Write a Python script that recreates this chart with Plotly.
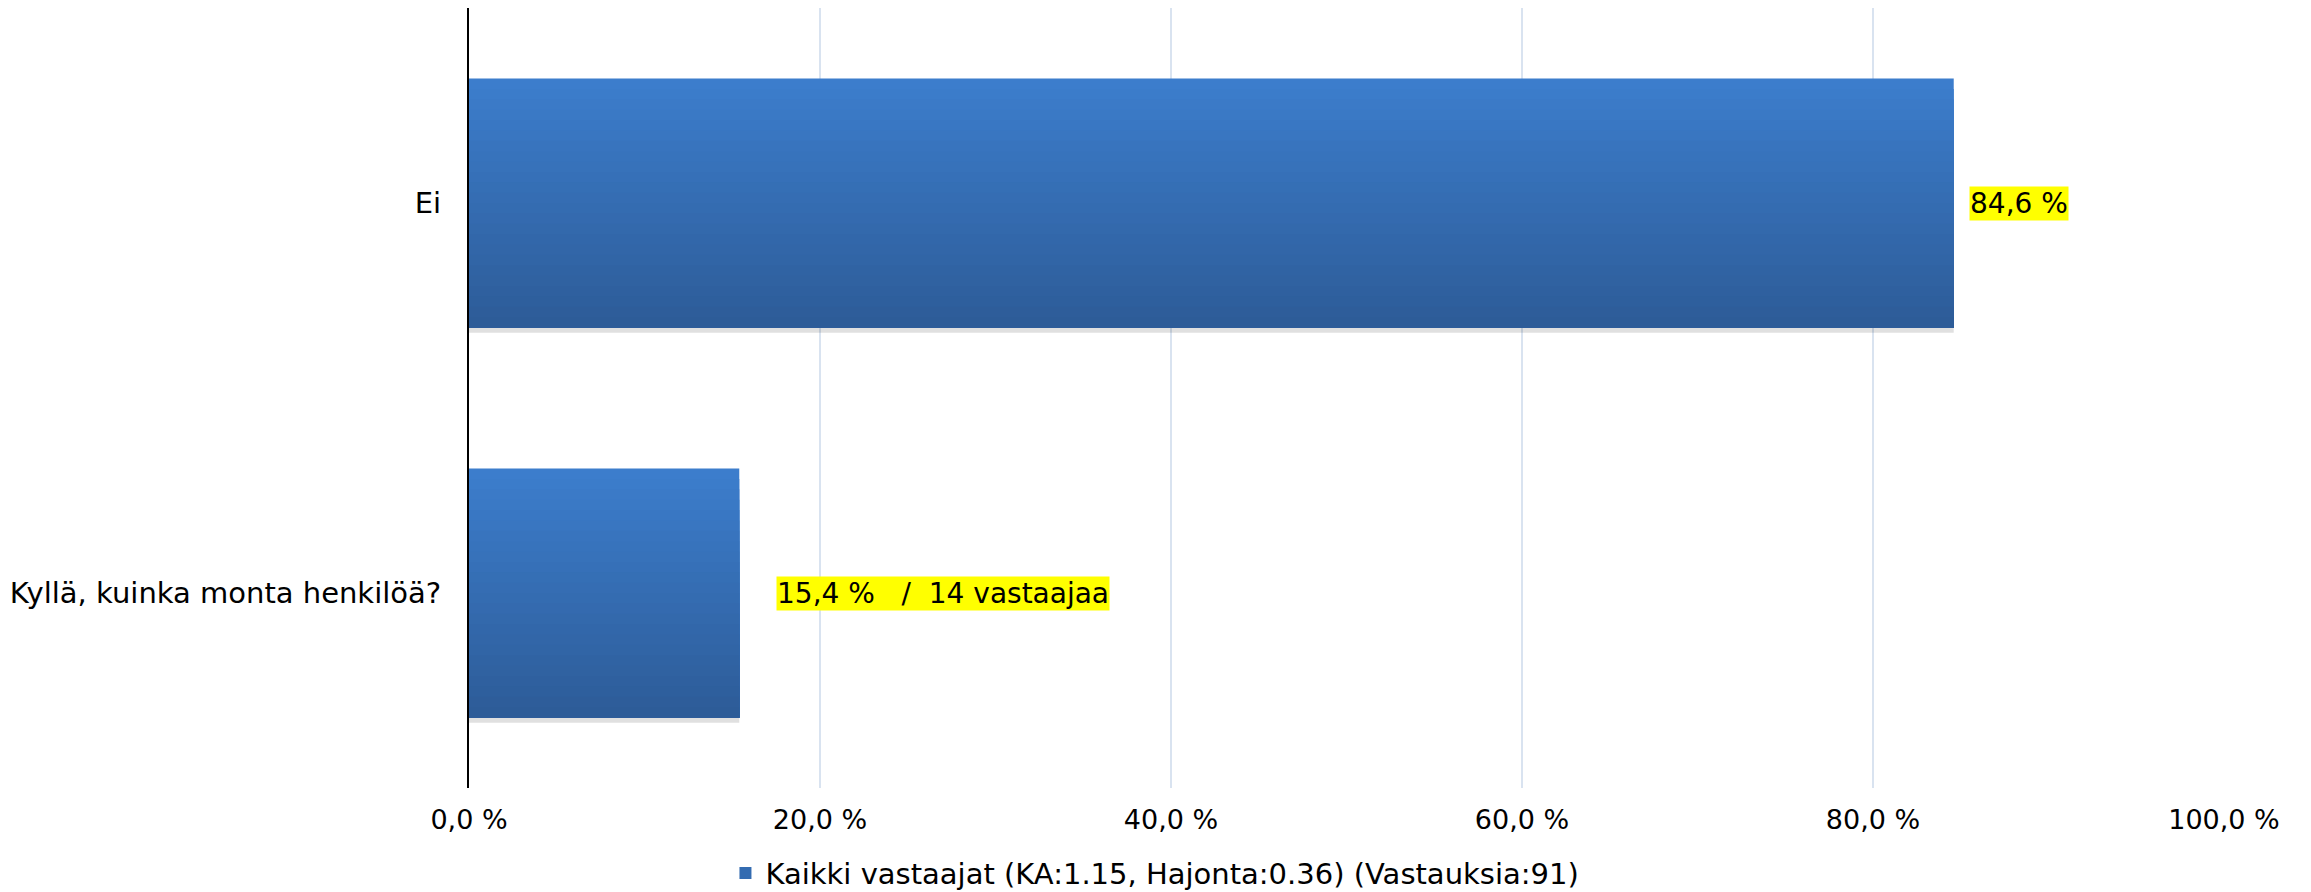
import plotly.graph_objects as go

# data
categories = ['Ei', 'Kyllä, kuinka monta henkilöä?']
percentages = [84.6, 15.4]
bar_labels = ['84,6 %', '15,4 %\u00a0\u00a0\u00a0/\u00a0\u00a014 vastaajaa']
tick_vals = [0, 20, 40, 60, 80, 100]
tick_text = ['0,0 %', '20,0 %', '40,0 %', '60,0 %', '80,0 %', '100,0 %']
series_name = 'Kaikki vastaajat (KA:1.15, Hajonta:0.36) (Vastauksia:91)'

FONT = 'DejaVu Sans, Liberation Sans, Arial'
GRID_COLOR = '#d9e3f0'
TOP_RGB = (60, 125, 204)
BOTTOM_RGB = (45, 92, 152)
BAR_GAP = 0.362
N_BANDS = 24


def blend(t):
    r, g, b = (int(round(a + (c - a) * t)) for a, c in zip(TOP_RGB, BOTTOM_RGB))
    return f'rgb({r},{g},{b})'


fig = go.Figure()

bar_w = 1 - BAR_GAP
step = bar_w / N_BANDS

# soft shadow under the bars
fig.add_trace(
    go.Bar(
        x=percentages, y=categories, orientation='h',
        width=0.016, offset=bar_w / 2 - 0.002,
        marker=dict(color='rgba(0,0,0,0.12)', line=dict(width=0)),
        showlegend=False, hoverinfo='skip',
    )
)

# vertical gradient: each band runs from its top edge to the bar bottom
for i in range(N_BANDS):
    fig.add_trace(
        go.Bar(
            x=percentages,
            y=categories,
            orientation='h',
            name=series_name,
            width=bar_w - i * step,
            offset=-bar_w / 2 + i * step,
            marker=dict(color=blend(i / (N_BANDS - 1)), line=dict(width=0)),
            showlegend=(i == N_BANDS // 2),
            hoverinfo='x+y' if i == 0 else 'skip',
        )
    )

# yellow value labels to the right of each bar
label_shift = [15, 37]
for cat, val, txt, shift in zip(categories, percentages, bar_labels, label_shift):
    fig.add_annotation(
        x=val, y=cat,
        xref='x', yref='y',
        text=txt,
        showarrow=False,
        xanchor='left',
        yanchor='middle',
        xshift=shift,
        bgcolor='#ffff00',
        borderpad=0,
        font=dict(size=28, color='#000000', family=FONT),
    )

fig.update_layout(
    width=2311,
    height=892,
    plot_bgcolor='#ffffff',
    paper_bgcolor='#ffffff',
    font=dict(family=FONT, size=27, color='#000000'),
    margin=dict(l=461, r=95, t=0, b=112),
    barmode='overlay',
    showlegend=True,
    legend=dict(
        orientation='h',
        xref='container', x=0.4963, xanchor='center',
        yref='container', y=0.03, yanchor='middle',
        font=dict(size=29, color='#000000', family=FONT),
        bgcolor='rgba(0,0,0,0)',
        itemwidth=30,
    ),
)

fig.update_xaxes(
    range=[0, 100],
    tickvals=tick_vals,
    ticktext=tick_text,
    showgrid=True,
    gridcolor=GRID_COLOR,
    gridwidth=1.5,
    zeroline=False,
    showline=False,
    ticks='',
    ticklabelstandoff=13,
    tickfont=dict(size=27, color='#000000', family=FONT),
)

fig.update_yaxes(
    categoryorder='array',
    categoryarray=categories,
    autorange='reversed',
    showgrid=False,
    zeroline=False,
    showline=True,
    linecolor='#000000',
    linewidth=2,
    ticks='',
    ticklabelstandoff=20,
    tickfont=dict(size=29, color='#000000', family=FONT),
)

fig.write_html('out.html')
